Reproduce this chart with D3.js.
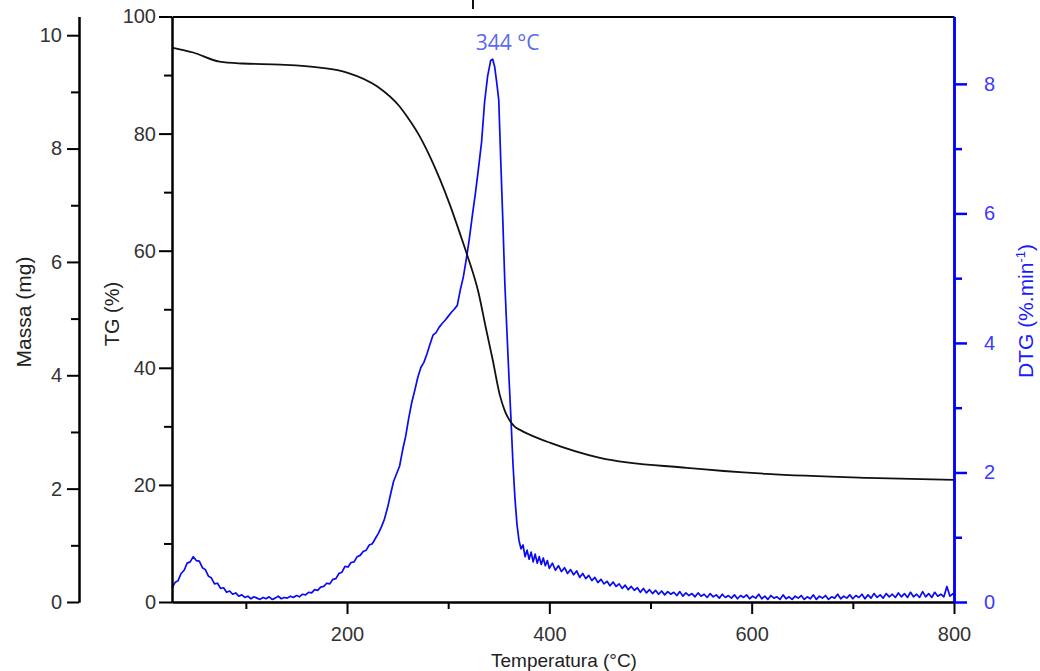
<!DOCTYPE html>
<html>
<head>
<meta charset="utf-8">
<script src="https://cdn.jsdelivr.net/npm/d3@7"></script>
<style>
  body { margin: 0; background: #fff; }
  svg { display: block; }
  .tick text { font-family: "Liberation Sans", Arial, sans-serif; font-size: 20px; }
  .title { font-family: "Liberation Sans", Arial, sans-serif; font-size: 20px; }
</style>
</head>
<body>
<svg width="1040" height="671"></svg>
<script>
// axis ticks
var tempTicks = [200, 400, 600, 800], tempMinor = [100, 300, 500, 700];
var tgTicks = [0, 20, 40, 60, 80, 100], tgMinor = [10, 30, 50, 70, 90];
var massTicks = [0, 2, 4, 6, 8, 10], massMinor = [1, 3, 5, 7, 9];
var dtgTicks = [0, 2, 4, 6, 8], dtgMinor = [1, 3, 5, 7];

// TG curve: [temperature (°C), TG (%)]
var tgData = [
  [27, 94.7], [48, 93.85], [74, 92.3], [97, 91.97], [134, 91.79], [173, 91.28],
  [200, 90.43], [230, 88.03], [252, 84.62], [260, 82.74], [272, 79.49], [282, 76.07],
  [292, 72.14], [302, 67.69], [312, 62.74], [319, 59.15], [330, 52.82], [337, 47.01],
  [344, 41.37], [351, 35.38], [356, 32.65], [361, 30.94], [366, 29.91], [371, 29.4],
  [381, 28.55], [401, 27.18], [450, 24.62], [536, 22.91], [615, 21.88], [714, 21.2],
  [800, 20.85]
];

// DTG curve: [temperature (°C), DTG (%.min-1)]
var dtgData = [
  [27,0.22],[30,0.30],[33,0.33],[36,0.44],[39,0.49],[42,0.60],[45,0.62],[48,0.70],[51,0.64],
  [54,0.63],[57,0.53],[60,0.50],[63,0.40],[66,0.37],[69,0.28],[72,0.29],[75,0.21],[78,0.22],
  [81,0.15],[84,0.17],[87,0.12],[90,0.14],[93,0.09],[96,0.11],[99,0.07],[102,0.09],[105,0.05],
  [108,0.08],[111,0.06],[114,0.04],[117,0.07],[120,0.05],[123,0.08],[126,0.04],[129,0.06],
  [132,0.09],[135,0.05],[138,0.07],[141,0.06],[144,0.09],[147,0.07],[150,0.10],[153,0.08],
  [156,0.12],[159,0.11],[162,0.15],[165,0.14],[168,0.19],[171,0.18],[174,0.23],[177,0.24],
  [180,0.29],[183,0.28],[186,0.35],[189,0.36],[192,0.44],[195,0.46],[198,0.55],[201,0.54],
  [204,0.61],[207,0.62],[210,0.70],[213,0.72],[216,0.78],[219,0.80],[222,0.88],[225,0.90],
  [228,0.98],[231,1.06],[234,1.16],[237,1.28],[240,1.45],[243,1.66],[246,1.86],[249,1.98],
  [252,2.10],[255,2.35],[258,2.56],[261,2.84],[264,3.08],[267,3.27],[270,3.47],[273,3.62],
  [276,3.70],[279,3.83],[282,3.98],[285,4.12],[288,4.16],[291,4.24],[294,4.30],[297,4.35],
  [300,4.41],[303,4.47],[306,4.52],[309,4.58],[312,4.82],[315,5.02],[318,5.30],[321,5.62],
  [324,5.98],[327,6.32],[330,6.70],[333,7.10],[336,7.72],[339,8.12],[342,8.36],[344,8.38],
  [346,8.26],[348,8.02],[350,7.75],[352,6.80],[354,5.90],[356,4.92],[358,4.20],[360,3.50],
  [362,2.85],[364,2.15],[366,1.60],[368,1.20],[370,0.95],[372,0.82],[374,0.88],[376,0.70],
  [378,0.80],[380,0.66],[382,0.77],[384,0.62],[386,0.74],[388,0.60],[390,0.70],[392,0.58],
  [394,0.68],[396,0.56],[398,0.64],
  [400,0.52],[403,0.60],[406,0.49],[409,0.56],[412,0.47],[415,0.53],[418,0.44],[421,0.50],
  [424,0.42],[427,0.48],[430,0.38],[433,0.44],[436,0.36],[439,0.41],[442,0.33],[445,0.38],
  [448,0.30],[451,0.35],[454,0.28],[457,0.32],[460,0.25],[463,0.31],[466,0.24],[469,0.28],
  [472,0.21],[475,0.26],[478,0.19],[481,0.24],[484,0.18],[487,0.22],[490,0.15],[493,0.21],
  [496,0.14],[499,0.19],[502,0.13],[505,0.18],[508,0.12],[511,0.17],[514,0.11],[517,0.16],
  [520,0.12],[523,0.15],[526,0.10],[529,0.16],[532,0.09],[535,0.14],[538,0.10],[541,0.13],
  [544,0.08],[547,0.14],[550,0.09],[553,0.12],[556,0.07],[559,0.13],[562,0.08],[565,0.11],
  [568,0.06],[571,0.12],[574,0.07],[577,0.10],[580,0.06],[583,0.11],[586,0.05],[589,0.10],
  [592,0.07],[595,0.11],[598,0.05],[601,0.09],[604,0.06],[607,0.12],[610,0.05],[613,0.09],
  [616,0.04],[619,0.10],[622,0.06],[625,0.08],[628,0.04],[631,0.11],[634,0.05],[637,0.08],
  [640,0.04],[643,0.09],[646,0.06],[649,0.10],[652,0.04],[655,0.08],[658,0.05],[661,0.11],
  [664,0.04],[667,0.09],[670,0.06],[673,0.10],[676,0.04],[679,0.08],[682,0.06],[685,0.12],
  [688,0.05],[691,0.09],[694,0.06],[697,0.11],[700,0.05],[703,0.10],[706,0.07],[709,0.12],
  [712,0.05],[715,0.11],[718,0.06],[721,0.13],[724,0.07],[727,0.11],[730,0.06],[733,0.13],
  [736,0.08],[739,0.12],[742,0.07],[745,0.14],[748,0.08],[751,0.13],[754,0.07],[757,0.15],
  [760,0.08],[763,0.12],[766,0.07],[769,0.16],[772,0.08],[775,0.13],[778,0.07],[781,0.15],
  [784,0.09],[787,0.12],[790,0.08],[793,0.24],[796,0.09],[799,0.13],[800,0.10]
];

var peakLabel = "344 °C", peakTemp = 344;

var svg = d3.select("svg");
var plotLeft = 172, plotRight = 954, plotTop = 16.5, plotBottom = 602;

var x = d3.scaleLinear().domain([27, 800]).range([plotLeft, plotRight]);
var yTG = d3.scaleLinear().domain([0, 100]).range([plotBottom, plotTop]);
var yMass = d3.scaleLinear().domain([0, 10.33]).range([plotBottom, plotTop]);
var yDTG = d3.scaleLinear().domain([0, 9.04]).range([plotBottom, plotTop]);

// curves
svg.append("path")
    .datum(dtgData)
    .attr("fill", "none")
    .attr("stroke", "#0a0af5")
    .attr("stroke-width", 1.7)
    .attr("stroke-linejoin", "round")
    .attr("d", d3.line().x(function (d) { return x(d[0]); }).y(function (d) { return yDTG(d[1]); }));

svg.append("path")
    .datum(tgData)
    .attr("fill", "none")
    .attr("stroke", "#111")
    .attr("stroke-width", 1.8)
    .attr("d", d3.line().curve(d3.curveMonotoneX)
        .x(function (d) { return x(d[0]); }).y(function (d) { return yTG(d[1]); }));

function styleAxis(g, color, width) {
    g.select(".domain").attr("stroke", color).attr("stroke-width", width);
    g.selectAll(".tick line").attr("stroke", color).attr("stroke-width", width);
    g.attr("font-size", null).attr("font-family", null);
}

// minor ticks first, majors on top
svg.append("g").attr("transform", "translate(0," + plotBottom + ")")
    .call(d3.axisBottom(x).tickValues(tempMinor).tickSize(7).tickFormat("").tickSizeOuter(0))
    .call(styleAxis, "#000", 2);
svg.append("g").attr("transform", "translate(0," + plotBottom + ")")
    .call(d3.axisBottom(x).tickValues(tempTicks).tickSize(12).tickPadding(13).tickSizeOuter(0))
    .call(styleAxis, "#000", 2)
    .selectAll("text").attr("fill", "#333");

// top frame
svg.append("g").attr("transform", "translate(0," + plotTop + ")")
    .call(d3.axisTop(x).tickValues([]).tickSizeOuter(0))
    .call(styleAxis, "#000", 2);

svg.append("g").attr("transform", "translate(" + plotLeft + ",0)")
    .call(d3.axisLeft(yTG).tickValues(tgMinor).tickSize(8).tickFormat("").tickSizeOuter(0))
    .call(styleAxis, "#000", 2);
svg.append("g").attr("transform", "translate(" + plotLeft + ",0)")
    .call(d3.axisLeft(yTG).tickValues(tgTicks).tickSize(13).tickPadding(3).tickSizeOuter(0))
    .call(styleAxis, "#000", 2)
    .selectAll("text").attr("fill", "#333");

var massX = 79;
svg.append("g").attr("transform", "translate(" + massX + ",0)")
    .call(d3.axisLeft(yMass).tickValues(massMinor).tickSize(8).tickFormat("").tickSizeOuter(0))
    .call(styleAxis, "#000", 2);
svg.append("g").attr("transform", "translate(" + massX + ",0)")
    .call(d3.axisLeft(yMass).tickValues(massTicks).tickSize(12).tickPadding(5).tickSizeOuter(0))
    .call(styleAxis, "#000", 2)
    .selectAll("text").attr("fill", "#333");

svg.append("g").attr("transform", "translate(" + plotRight + ",0)")
    .call(d3.axisRight(yDTG).tickValues(dtgMinor).tickSize(8).tickFormat("").tickSizeOuter(0))
    .call(styleAxis, "#0000ff", 2.5);
svg.append("g").attr("transform", "translate(" + plotRight + ",0)")
    .call(d3.axisRight(yDTG).tickValues(dtgTicks).tickSize(13).tickPadding(17).tickSizeOuter(0))
    .call(styleAxis, "#0000ff", 2.5)
    .selectAll("text").attr("fill", "#3a3aff");

// axis titles
svg.append("text").attr("class", "title")
    .attr("transform", "translate(31,312) rotate(-90)")
    .attr("text-anchor", "middle").attr("fill", "#222")
    .attr("font-size", 21).style("font-size", "21px")
    .text("Massa (mg)");
svg.append("text").attr("class", "title")
    .attr("transform", "translate(119,314) rotate(-90)")
    .attr("text-anchor", "middle").attr("fill", "#222")
    .text("TG (%)");
var dtgTitle = svg.append("text").attr("class", "title")
    .attr("transform", "translate(1033,311) rotate(-90)")
    .attr("text-anchor", "middle").attr("fill", "#1a1aff")
    .style("font-size", "21px");
dtgTitle.append("tspan").text("DTG (%.min");
dtgTitle.append("tspan").attr("dy", -8).style("font-size", "13px").text("-1");
dtgTitle.append("tspan").attr("dy", 8).text(")");

svg.append("text").attr("class", "title")
    .attr("x", 564).attr("y", 667)
    .attr("text-anchor", "middle").attr("fill", "#222")
    .style("font-size", "19px")
    .text("Temperatura (°C)");

// peak label
svg.append("text")
    .attr("x", x(peakTemp) + 15).attr("y", 50)
    .attr("text-anchor", "middle")
    .attr("font-family", "'Open Sans', sans-serif").attr("font-size", 21)
    .attr("fill", "#5a6af0")
    .text(peakLabel);

// bit of a cut-off title above the frame
svg.append("line").attr("x1", 473).attr("x2", 473).attr("y1", 0).attr("y2", 9)
    .attr("stroke", "#111").attr("stroke-width", 2);
</script>
</body>
</html>
